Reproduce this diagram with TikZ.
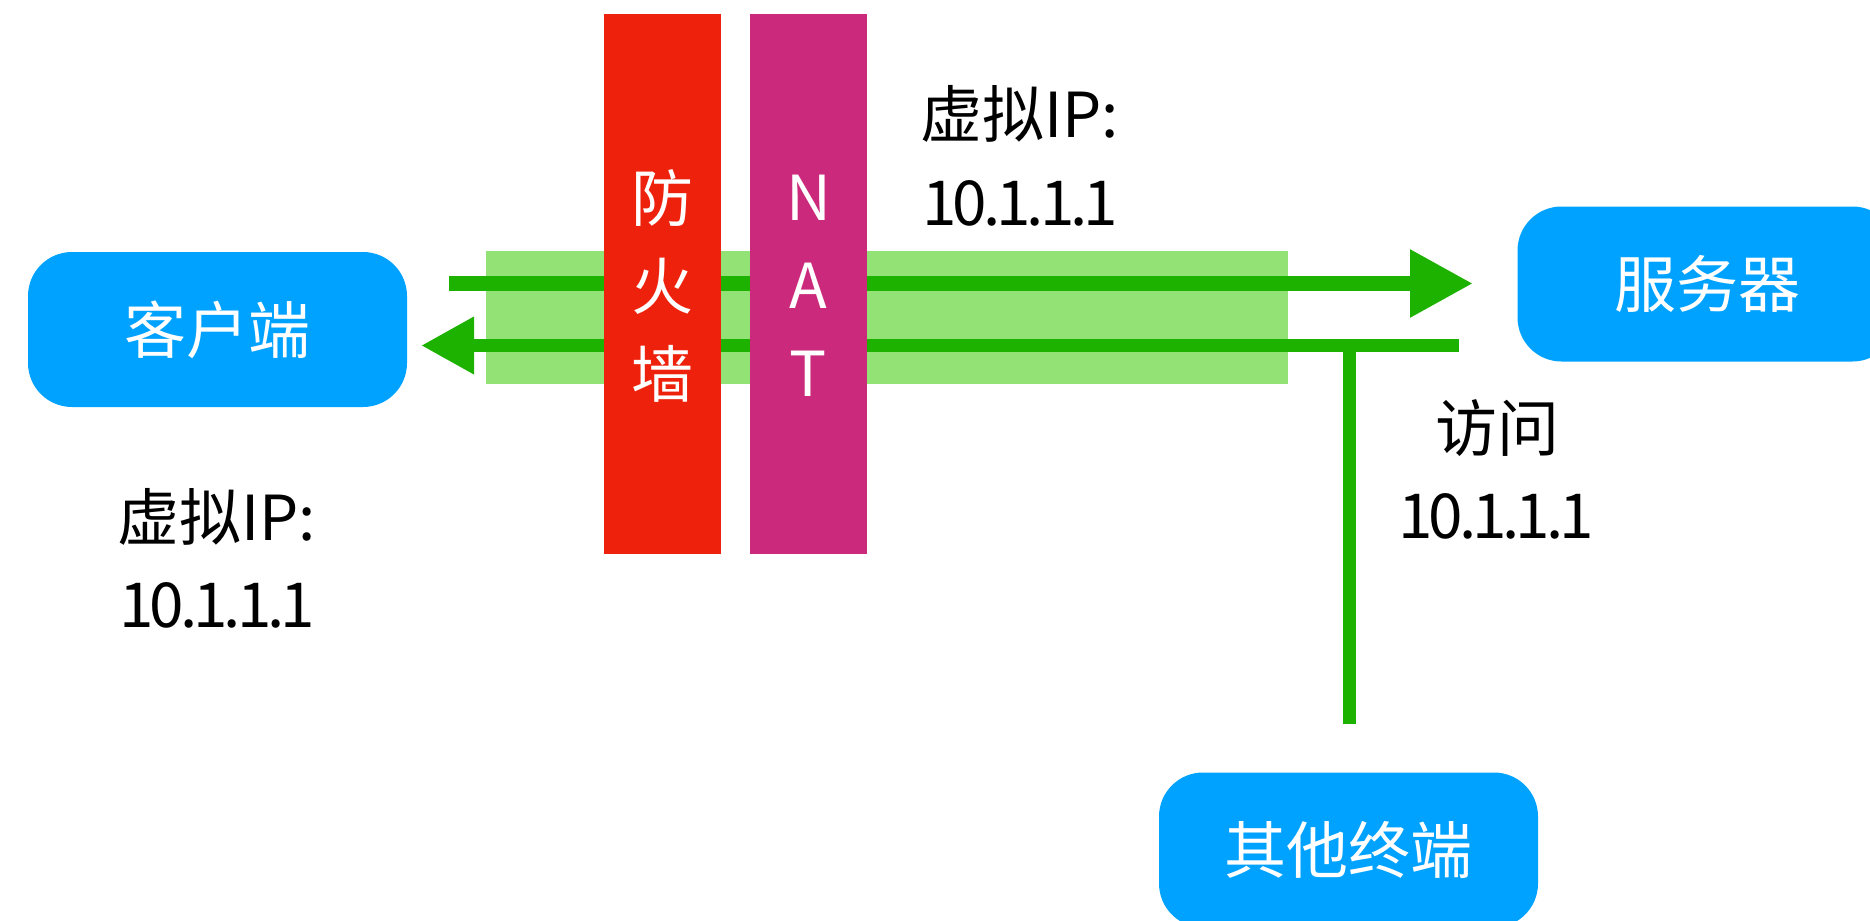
\documentclass[tikz,border=0pt]{standalone}
\usepackage{fontspec}
\setmainfont{Noto Sans CJK SC}
\newfontfamily\digitfont[LetterSpace=-6.5]{Noto Sans CJK SC}
\usetikzlibrary{arrows.meta}
\definecolor{nodeblue}{HTML}{00A2FF}
\definecolor{fwred}{HTML}{EE220C}
\definecolor{natmag}{HTML}{CB297B}
\definecolor{bandgreen}{HTML}{93E276}
\definecolor{flowgreen}{HTML}{1DB100}
\begin{document}
\begin{tikzpicture}[x=0.5pt,y=-0.5pt,
  box/.style={fill=nodeblue, rounded corners=22pt, minimum width=189.5pt, minimum height=77.5pt, inner sep=0pt, text=white, font=\fontsize{31pt}{37pt}\selectfont},
  lbl/.style={font=\fontsize{31pt}{37pt}\selectfont, inner sep=0pt, text=black},
  numlbl/.style={font=\digitfont\fontsize{31pt}{37pt}\selectfont, inner sep=0pt, text=black},
  barbox/.style={minimum width=58.5pt, minimum height=270pt, inner sep=0pt},
  bartext/.style={text=white, align=center, inner sep=0pt, font=\fontsize{31pt}{44pt}\selectfont},
  fwdflow/.style={draw=flowgreen, line width=7.5pt, -{Triangle[length=31.5pt, width=32pt]}},
  retflow/.style={draw=flowgreen, line width=6.5pt, -{Triangle[length=26.5pt, width=27pt]}},
  plainflow/.style={draw=flowgreen, line width=6.5pt}
]
\useasboundingbox (0,0) rectangle (1870,921);
\clip (0,0) rectangle (1870,921);

% background band
\fill[bandgreen] (486,251) rectangle (1288,384);

% nodes
\node[box] (client) at (217.5,329.5) {客户端};
\node[box] (server) at (1707,284) {服务器};
\node[box] (other) at (1348.5,850) {其他终端};

% coordinates for flows
\coordinate (fstart) at (449,283.5);
\coordinate (fend) at (1473,283.5);
\coordinate (rstart) at (1459,345.5);
\coordinate (rend) at (421,345.5);
\coordinate (tjoin) at (1349,345.5);
\coordinate (tbottom) at (1349,724);

\draw[fwdflow] (fstart) -- (fend);
\draw[retflow] (rstart) -- (rend);
\draw[plainflow] (tjoin) -- (tbottom);

% bars
\node[barbox, fill=fwred] (fw) at (662.5,284) {};
\node[barbox, fill=natmag] (nat) at (808.5,284) {};
\node[bartext] (fwtext) at (662.5,286) {防\\火\\墙};
\node[bartext] (nattext) at (808.5,286) {N\\A\\T};

% labels
\node[lbl, anchor=base west] (vip1a) at (920,137) {虚拟IP:};
\node[numlbl, anchor=base west] (vip1b) at (922,225) {10.1.1.1};
\node[lbl, anchor=base west] (vip2a) at (117,540) {虚拟IP:};
\node[numlbl, anchor=base west] (vip2b) at (119,627) {10.1.1.1};
\node[lbl, anchor=base] (acc1) at (1497,451) {访问};
\node[numlbl, anchor=base] (acc2) at (1496,538) {10.1.1.1};
\end{tikzpicture}
\end{document}
